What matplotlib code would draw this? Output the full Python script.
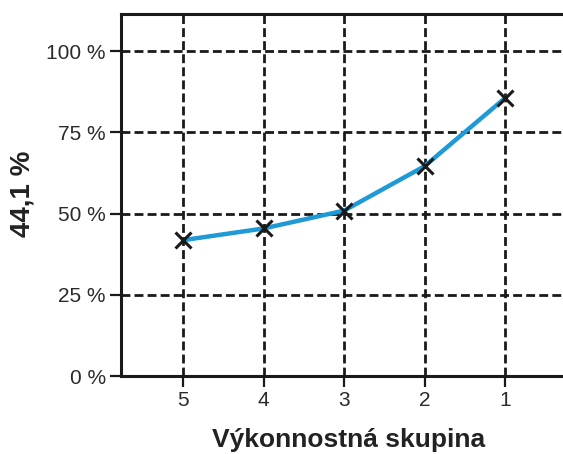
import matplotlib
matplotlib.use("Agg")
import matplotlib.pyplot as plt

categories = ["5", "4", "3", "2", "1"]
values = [41.8, 45.4, 50.9, 64.6, 85.6]
yticks = [0, 25, 50, 75, 100]
ytick_labels = ["0 %", "25 %", "50 %", "75 %", "100 %"]
ylabel = "44,1 %"
xlabel = "Výkonnostná skupina"

plt.rcParams['font.family'] = ['Liberation Sans', 'DejaVu Sans']

fig = plt.figure(figsize=(5.63, 4.54), dpi=100)
ax = fig.add_axes([121/563, 78/454, 456/563, 362/454])

x = list(range(len(categories)))
ax.plot(x, values, color="#1f9ad6", lw=3.2, zorder=3, solid_capstyle='round')
ax.plot(x, values, ls='none', marker='x', ms=11, mew=2.2, color='#1a1a1a', zorder=4)

ax.set_xlim(-0.77, 4.89)
ax.set_ylim(0, 111.4)
ax.set_xticks(x)
ax.set_xticklabels(categories)
ax.set_yticks(yticks)
ax.set_yticklabels(ytick_labels)

ax.grid(True, color='#1a1a1a', lw=2.0, linestyle=(0, (3.2, 1.5)))
ax.set_axisbelow(True)

for s in ['left', 'bottom', 'top']:
    ax.spines[s].set_linewidth(2.2)
    ax.spines[s].set_color('#1a1a1a')
ax.spines['right'].set_visible(False)

ax.tick_params(axis='both', direction='out', length=8, width=1.6, color='#1a1a1a',
               labelsize=15, labelcolor='#2a2a2a', pad=3)

fig.text(23/563, 1 - 194/454, ylabel, rotation=90, ha='center', va='center',
         fontsize=20, fontweight='bold', color='#222222')
fig.text(349/563, 1 - 440/454, xlabel, ha='center', va='center',
         fontsize=19, fontweight='bold', color='#222222')

fig.savefig("out.png", dpi=100)
